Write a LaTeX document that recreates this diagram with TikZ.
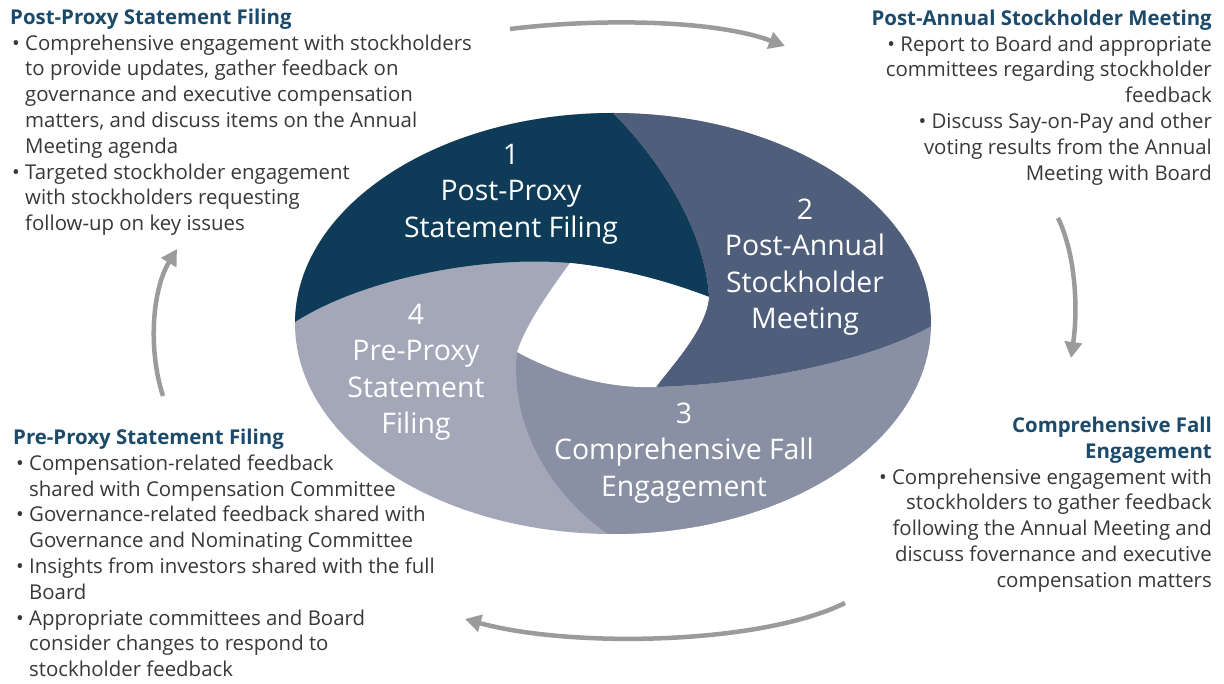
\documentclass[tikz,border=0pt]{standalone}
\usepackage{fontspec}
\setmainfont{Open Sans}
\usetikzlibrary{arrows.meta}
\definecolor{segA}{HTML}{0D3B58}
\definecolor{segB}{HTML}{4F5F7B}
\definecolor{segC}{HTML}{8990A3}
\definecolor{segD}{HTML}{A3A7B7}
\definecolor{hdcol}{HTML}{1B4A6B}
\definecolor{bodycol}{HTML}{383838}
\definecolor{arrcol}{HTML}{9B9B9B}
\newcommand\mybul{\makebox[13pt][l]{•}}
\newcommand\myind{\hspace*{13pt}}
\newcommand\hd[1]{{\bfseries\color{hdcol}#1}}
\tikzset{
  body/.style={inner sep=0pt, text=bodycol, font=\fontsize{20.4}{25.8}\selectfont},
  seglabel/.style={inner sep=0pt, text=white, align=center, font=\fontsize{28.4}{36.5}\selectfont},
  cyc/.style={draw=arrcol, line width=4.5pt, -{Triangle[length=16pt,width=17pt]}}
}
\begin{document}
\begin{tikzpicture}[x=1pt,y=-1pt]
\useasboundingbox (0,0) rectangle (1224,684);
\fill[white] (0,0) rectangle (1224,684);

% ---- segmented ellipse ----
\begin{scope}
\clip (613,323.5) ellipse [x radius=318pt, y radius=210.5pt];
\fill[segD] (613,323.5) ellipse [x radius=318pt, y radius=210.5pt];
% segment 1
\fill[segA] (580,80) -- (613,113) .. controls (660,160) and (705,230) .. (709,297)
  .. controls (670,282) and (620,268) .. (570,263)
  .. controls (480,255) and (360,280) .. (295,322) -- (250,351) -- (250,80) -- cycle;
% segment 2
\fill[segB] (580,80) -- (613,113) .. controls (660,160) and (705,230) .. (709,297)
  .. controls (706,330) and (672,365) .. (656,387)
  .. controls (740,385) and (860,365) .. (930,327) -- (980,300) -- (980,80) -- cycle;
% segment 3
\fill[segC] (980,300) -- (930,327) .. controls (860,365) and (740,385) .. (656,387)
  .. controls (600,389) and (550,370) .. (517,352)
  .. controls (510,420) and (545,490) .. (608,534) -- (650,565) -- (980,580) -- cycle;
% centre hole
\fill[white] (570,263) .. controls (620,268) and (670,282) .. (709,297)
  .. controls (706,330) and (672,365) .. (656,387)
  .. controls (600,389) and (550,370) .. (517,352)
  .. controls (527,322) and (552,288) .. (570,263) -- cycle;
\end{scope}

\node[seglabel] (l1) at (511,194) {1\\Post-Proxy\\Statement Filing};
\node[seglabel] (l2) at (805,267) {2\\Post-Annual\\Stockholder\\Meeting};
\node[seglabel] (l3) at (684,453) {3\\Comprehensive Fall\\Engagement};
\node[seglabel] (l4) at (416,372) {4\\Pre-Proxy\\Statement\\Filing};

% ---- text blocks ----
\node[body, align=left, anchor=north west] (tl) at (10,8.7) {%
\hd{Post-Proxy Statement Filing}\\
\hspace*{2pt}\mybul Comprehensive engagement with stockholders\\
\hspace*{2pt}\myind to provide updates, gather feedback on\\
\hspace*{2pt}\myind governance and executive compensation\\
\hspace*{2pt}\myind matters, and discuss items on the Annual\\
\hspace*{2pt}\myind Meeting agenda\\
\hspace*{2pt}\mybul Targeted stockholder engagement\\
\hspace*{2pt}\myind with stockholders requesting\\
\hspace*{2pt}\myind follow-up on key issues};

\node[body, align=right, anchor=north east] (tr) at (1212,9.7) {%
\hd{Post-Annual Stockholder Meeting}\\
• Report to Board and appropriate\\
committees regarding stockholder\\
feedback\\
• Discuss Say-on-Pay and other\\
voting results from the Annual\\
Meeting with Board};

\node[body, align=right, anchor=north east] (br) at (1212,416.7) {%
\hd{Comprehensive Fall}\\
\hd{Engagement}\\
• Comprehensive engagement with\\
stockholders to gather feedback\\
following the Annual Meeting and\\
discuss fovernance and executive\\
compensation matters};

\node[body, align=left, anchor=north west] (bl) at (13,428.7) {%
\hd{Pre-Proxy Statement Filing}\\
\hspace*{3pt}\mybul Compensation-related feedback\\
\hspace*{3pt}\myind shared with Compensation Committee\\
\hspace*{3pt}\mybul Governance-related feedback shared with\\
\hspace*{3pt}\myind Governance and Nominating Committee\\
\hspace*{3pt}\mybul Insights from investors shared with the full\\
\hspace*{3pt}\myind Board\\
\hspace*{3pt}\mybul Appropriate committees and Board\\
\hspace*{3pt}\myind consider changes to respond to\\
\hspace*{3pt}\myind stockholder feedback};

% ---- cycle arrows ----
\coordinate (a1s) at (510,29);
\coordinate (a1e) at (785,46);
\coordinate (a2s) at (1058,218);
\coordinate (a2e) at (1071,358);
\coordinate (a3s) at (845,603);
\coordinate (a3e) at (465,619);
\coordinate (a4s) at (163,396);
\coordinate (a4e) at (177,249);
\draw[cyc] (a1s) .. controls (600,18) and (715,20) .. (a1e);
\draw[cyc] (a2s) .. controls (1076,255) and (1078,310) .. (a2e);
\draw[cyc] (a3s) .. controls (760,645) and (570,648) .. (a3e);
\draw[cyc] (a4s) .. controls (148,350) and (152,290) .. (a4e);
\end{tikzpicture}
\end{document}
